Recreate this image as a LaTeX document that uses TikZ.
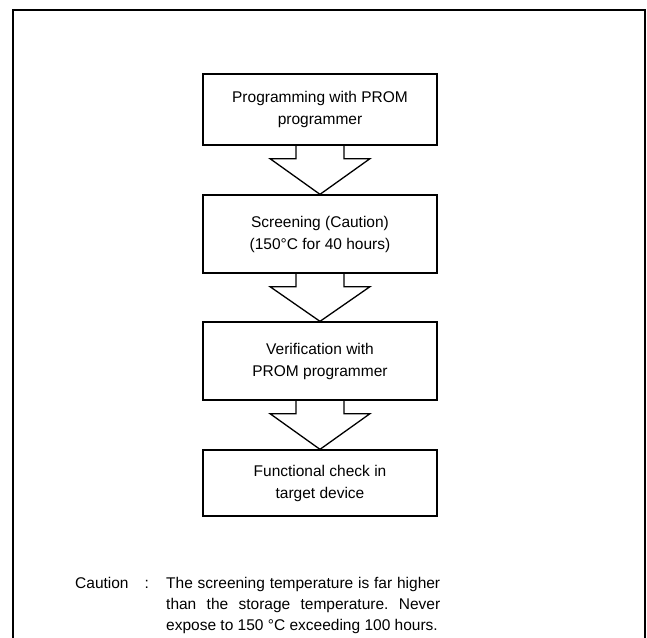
\documentclass[tikz,border=0pt]{standalone}
\usepackage{fontspec}
\setmainfont{Liberation Sans}
\usetikzlibrary{calc}
\frenchspacing
\begin{document}
\begin{tikzpicture}[x=1pt,y=-1pt,
  box/.style={draw, line width=1.3pt, minimum width=234pt, inner sep=0pt, align=center,
    font=\fontsize{15.5}{22}\selectfont},
  blockarrow/.style={draw, line width=1.3pt, line join=miter},
  txt/.style={font=\fontsize{15.5}{21}\selectfont, inner sep=0pt}]
\useasboundingbox (0,0) rectangle (647,637);
\draw[line width=2.8pt] (13,660) -- (13,10) -- (645,10) -- (645,660);
\node[box, minimum height=71pt] (b1) at (320,109.5) {Programming with PROM\\programmer};
\node[box, minimum height=78pt] (b2) at (320,234) {Screening (Caution)\\(150°C for 40 hours)};
\node[box, minimum height=78pt] (b3) at (320,361) {Verification with\\PROM programmer};
\node[box, minimum height=66pt] (b4) at (320,483) {Functional check in\\target device};
\foreach \a/\b in {b1/b2,b2/b3,b3/b4}{
  \draw[blockarrow] ($(\a.south)+(-24,0)$) -- ++(0,13) -- ++(-26,0) -- (\b.north)
    -- ($(\a.south)+(50,13)$) -- ++(-26,0) -- ++(0,-13);
}
\node[txt, anchor=base west] (cl) at (75,588) {Caution\hspace{16pt}:};
\node[txt, anchor=base west, text width=274pt, align=justify] (ct) at (166,588)
  {The screening temperature is far higher\linebreak than the storage temperature. Never\linebreak expose to 150 °C exceeding 100 hours.};
\end{tikzpicture}
\end{document}
